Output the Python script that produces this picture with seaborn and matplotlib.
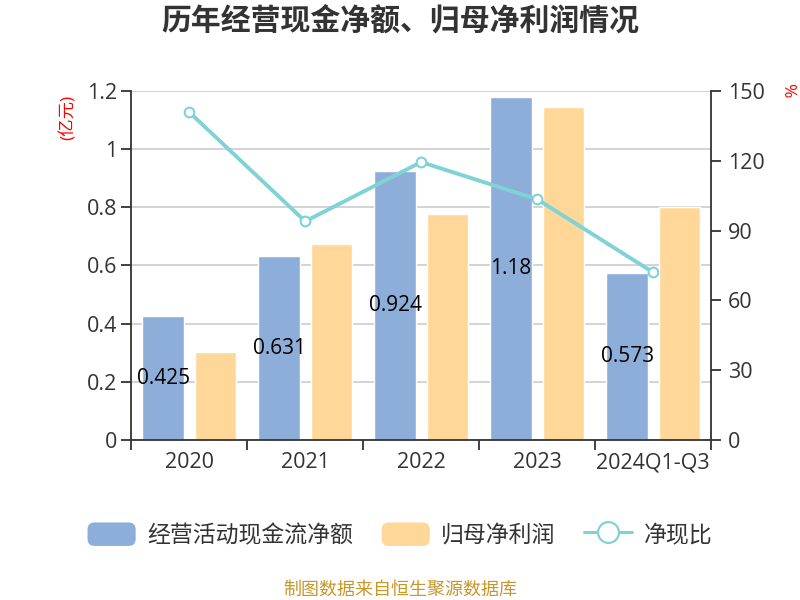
import numpy as np
import pandas as pd
import matplotlib
matplotlib.use("Agg")
import matplotlib.pyplot as plt
import seaborn as sns
from matplotlib.patches import Patch, FancyBboxPatch
from matplotlib.lines import Line2D
from matplotlib.legend_handler import HandlerPatch

categories = ["2020", "2021", "2022", "2023", "2024Q1-Q3"]
cash_flow = [0.425, 0.631, 0.924, 1.18, 0.573]
net_profit = [0.303, 0.675, 0.777, 1.145, 0.801]
ratio = [141.0, 94.0, 119.5, 103.5, 72.0]
series_names = ["经营活动现金流净额", "归母净利润", "净现比"]

sns.set_theme(style="white")
plt.rcParams['font.family'] = ['Open Sans', 'Noto Sans CJK SC', 'DejaVu Sans']

blue = "#8EAEDA"
orange = "#FFD899"
cyan = "#7FD3D6"
dark = "#333333"
FS = 15.5

df = pd.DataFrame({
    "cat": categories * 2,
    "val": cash_flow + net_profit,
    "series": [series_names[0]] * 5 + [series_names[1]] * 5,
})

fig = plt.figure(figsize=(8, 6), dpi=100)
ax = fig.add_axes([0.164, 0.267, 0.725, 0.581])
sns.barplot(data=df, x="cat", y="val", hue="series", order=categories,
            hue_order=series_names[:2], palette=[blue, orange],
            width=0.9, gap=0.21, ax=ax, legend=False, saturation=1)

ax.set_ylim(0, 1.2)
ax.set_xlim(-0.5, 4.5)
ax.set_yticks(np.arange(0, 1.21, 0.2))
ax.set_yticklabels(["0", "0.2", "0.4", "0.6", "0.8", "1", "1.2"])
ax.yaxis.grid(True, color="#CCCCCC", linewidth=1.2)
ax.set_axisbelow(True)
ax.set_xlabel("")
ax.set_ylabel("")
for s in ["top", "right"]:
    ax.spines[s].set_visible(False)
for s in ["left", "bottom"]:
    ax.spines[s].set_color(dark)
    ax.spines[s].set_linewidth(1.3)
ax.tick_params(axis="y", which="major", length=7, width=1.3, color=dark,
               labelsize=FS, labelcolor=dark, direction="out", left=True, pad=3)
ax.set_xticks(range(len(categories)))
ax.set_xticklabels(categories)
ax.set_xticks(np.arange(-0.5, 5, 1), minor=True)
ax.tick_params(axis="x", which="major", length=0, labelsize=FS, labelcolor=dark, pad=9)
ax.tick_params(axis="x", which="minor", length=7, width=1.3, color=dark, bottom=True)

# value labels at the middle of blue bars
for i, v in enumerate(cash_flow):
    x = i - 0.225
    ax.text(x, v / 2, f"{v:g}", ha="center", va="center", fontsize=15, color="black")

ax2 = ax.twinx()
sns.lineplot(x=np.arange(len(categories)), y=ratio, ax=ax2, color=cyan, linewidth=2.8,
             marker="o", markersize=7, markerfacecolor="white", markeredgecolor=cyan,
             markeredgewidth=1.5)
ax2.set_ylim(0, 150)
ax2.set_xlim(-0.5, 4.5)
ax2.set_yticks(np.arange(0, 151, 30))
for s in ["top", "left", "bottom"]:
    ax2.spines[s].set_visible(False)
ax2.spines["right"].set_color(dark)
ax2.spines["right"].set_linewidth(1.3)
ax2.tick_params(axis="y", length=7, width=1.3, color=dark, labelsize=FS,
                labelcolor=dark, right=True, direction="out", pad=5)
ax2.set_ylabel("")
ax2.grid(False)

fig.text(0.5, 0.962, "历年经营现金净额、归母净利润情况", ha="center", va="center",
         fontsize=21.5, fontweight="bold", color=dark)
fig.text(0.085, 0.805, "(亿元)", rotation=90, ha="center", va="center", fontsize=12.5, color="red")
fig.text(0.984, 0.85, "%", rotation=-90, ha="center", va="center", fontsize=12.5, color="red")
fig.text(0.5, 0.017, "制图数据来自恒生聚源数据库", ha="center", va="center", fontsize=13, color="#C8962A")


class RoundHandler(HandlerPatch):
    def create_artists(self, legend, orig_handle, xdescent, ydescent, width, height,
                       fontsize, trans):
        p = FancyBboxPatch((-xdescent, -ydescent), width, height,
                           boxstyle="round,pad=0,rounding_size=%f" % (height * 0.3),
                           facecolor=orig_handle.get_facecolor(), edgecolor="none",
                           transform=trans)
        return [p]


handles = [Patch(facecolor=blue), Patch(facecolor=orange),
           Line2D([0], [0], color=cyan, linewidth=2.2, marker="o", markersize=15,
                  markerfacecolor="white", markeredgecolor=cyan, markeredgewidth=1.6)]
fig.legend(handles, series_names, loc="center", bbox_to_anchor=(0.5, 0.108), ncol=3,
           frameon=False, fontsize=16.5, handlelength=2.1, handleheight=1.2,
           columnspacing=1.25, handletextpad=0.5, labelcolor=dark,
           handler_map={Patch: RoundHandler()})

fig.savefig("out.png", dpi=100)
